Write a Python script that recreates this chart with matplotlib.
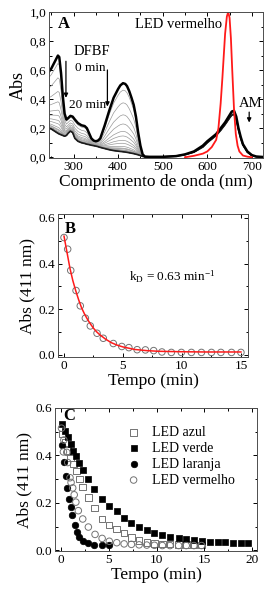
import numpy as np
import matplotlib
matplotlib.use("Agg")
import matplotlib.pyplot as plt
from matplotlib.ticker import MultipleLocator, FuncFormatter

plt.rcParams['font.family'] = ['Liberation Serif', 'DejaVu Serif']
plt.rcParams['mathtext.fontset'] = 'custom'
plt.rcParams['mathtext.rm'] = 'Liberation Serif'
plt.rcParams['mathtext.it'] = 'Liberation Serif:italic'

# ---------------- Panel A data (spectra) ----------------
wl = [245, 250, 255, 260, 265, 268, 272, 276, 280, 284, 288, 293, 298, 303, 310, 318,
      325, 330, 335, 340, 345, 350, 355, 360, 370, 380, 390, 400, 405, 411, 416, 420,
      425, 430, 435, 440, 445, 450, 455, 460, 470, 500, 530, 550, 570, 590, 600, 610,
      620, 630, 640, 650, 655, 660, 665, 670, 675, 680, 690, 700, 710, 725]
abs_0min = [0.59, 0.61, 0.64, 0.67, 0.70, 0.69, 0.58, 0.42, 0.30, 0.26, 0.27, 0.285, 0.28,
            0.26, 0.235, 0.22, 0.215, 0.20, 0.165, 0.13, 0.115, 0.11, 0.115, 0.13, 0.22,
            0.32, 0.41, 0.47, 0.495, 0.51, 0.505, 0.49, 0.455, 0.41, 0.36, 0.28, 0.17,
            0.08, 0.02, 0.005, 0.003, 0.003, 0.008, 0.02, 0.04, 0.08, 0.11, 0.135, 0.16,
            0.20, 0.24, 0.29, 0.315, 0.32, 0.28, 0.20, 0.14, 0.09, 0.04, 0.015, 0.005, 0.002]
abs_20min = [0.20, 0.195, 0.185, 0.175, 0.165, 0.16, 0.155, 0.15, 0.145, 0.15, 0.165, 0.18,
             0.17, 0.13, 0.11, 0.10, 0.095, 0.09, 0.087, 0.083, 0.08, 0.077, 0.073, 0.068,
             0.06, 0.052, 0.046, 0.042, 0.04, 0.038, 0.036, 0.034, 0.031, 0.028, 0.025,
             0.021, 0.017, 0.012, 0.006, 0.003, 0.002, 0.003, 0.008, 0.018, 0.035, 0.07,
             0.10, 0.125, 0.15, 0.185, 0.225, 0.27, 0.29, 0.295, 0.26, 0.19, 0.13, 0.085,
             0.035, 0.012, 0.004, 0.002]
led_wl = [550, 570, 590, 600, 610, 620, 625, 630, 634, 640, 644, 647, 650, 653, 656, 660,
          664, 668, 672, 680, 690, 700]
led_red = [0.0, 0.01, 0.025, 0.04, 0.07, 0.12, 0.2, 0.37, 0.55, 0.85, 0.97, 1.0, 0.96,
           0.82, 0.6, 0.33, 0.16, 0.08, 0.04, 0.012, 0.004, 0.0]

# ---------------- Panel B data ----------------
t_b = [0, 0.31, 0.57, 1.02, 1.38, 1.81, 2.23, 2.8, 3.33, 4.18, 4.9, 5.5, 6.2, 6.9, 7.6,
       8.3, 9.1, 9.95, 10.8, 11.65, 12.5, 13.3, 14.2, 15.0]
abs_b = [0.514, 0.463, 0.37, 0.282, 0.215, 0.161, 0.127, 0.095, 0.073, 0.050, 0.037,
         0.032, 0.023, 0.022, 0.019, 0.013, 0.011, 0.011, 0.011, 0.011, 0.011, 0.011,
         0.011, 0.011]
t_fit = [0, 0.25, 0.5, 0.75, 1.0, 1.25, 1.5, 1.75, 2.0, 2.25, 2.5, 2.75, 3.0, 3.5, 4.0,
         4.5, 5.0, 6.0, 7.0, 8.0, 10.0, 12.0, 15.0]
abs_fit = [0.52, 0.45, 0.38, 0.325, 0.28, 0.24, 0.205, 0.178, 0.155, 0.135, 0.117, 0.102,
           0.09, 0.07, 0.054, 0.043, 0.035, 0.024, 0.019, 0.016, 0.014, 0.013, 0.013]

# ---------------- Panel C data ----------------
t_azul = [0.14, 0.42, 0.7, 1.0, 1.29, 1.64, 1.92, 2.27, 2.86, 3.52, 4.29, 5.03, 5.8, 6.6,
          7.36, 8.17, 8.97, 9.77, 10.6, 11.4, 12.3, 13.1, 13.9, 14.7]
abs_azul = [0.49, 0.455, 0.42, 0.39, 0.363, 0.334, 0.30, 0.267, 0.222, 0.179, 0.131,
            0.106, 0.09, 0.072, 0.053, 0.042, 0.033, 0.029, 0.027, 0.026, 0.025, 0.024,
            0.023, 0.022]
t_verde = [0.14, 0.42, 0.7, 1.0, 1.29, 1.57, 1.88, 2.27, 2.86, 3.49, 4.26, 5.03, 5.83, 6.6,
           7.33, 8.17, 8.97, 9.77, 10.6, 11.4, 12.3, 13.1, 13.9, 14.7, 15.6, 16.4, 17.2,
           18.0, 18.8, 19.6]
abs_verde = [0.534, 0.503, 0.477, 0.448, 0.42, 0.396, 0.367, 0.338, 0.30, 0.258, 0.217,
             0.186, 0.164, 0.136, 0.114, 0.099, 0.086, 0.074, 0.063, 0.056, 0.051, 0.046,
             0.042, 0.039, 0.036, 0.034, 0.033, 0.032, 0.030, 0.029]
t_laranja = [0.1, 0.3, 0.5, 0.66, 0.85, 1.02, 1.15, 1.45, 1.65, 1.92, 2.3, 2.8, 3.5, 4.26, 5.05]
abs_laranja = [0.445, 0.372, 0.313, 0.263, 0.218, 0.181, 0.15, 0.106, 0.078, 0.058, 0.039,
               0.029, 0.023, 0.021, 0.021]
t_vermelho = [0.05, 0.3, 0.25, 0.6, 0.7, 0.94, 1.05, 1.22, 1.38, 1.55, 1.81, 2.27, 2.86,
              3.56, 4.3, 5.05, 5.83, 6.6, 7.36, 8.17, 8.97, 9.77, 10.6, 11.4, 12.3, 13.1,
              13.9, 14.7]
abs_vermelho = [0.515, 0.465, 0.415, 0.413, 0.37, 0.306, 0.286, 0.263, 0.234, 0.203, 0.167,
                0.132, 0.098, 0.067, 0.05, 0.038, 0.032, 0.027, 0.025, 0.023, 0.022, 0.021,
                0.02, 0.02, 0.02, 0.02, 0.02, 0.02]
legend_labels = ['LED azul', 'LED verde', 'LED laranja', 'LED vermelho']

W, H = 272, 590
fig = plt.figure(figsize=(W / 100, H / 100), dpi=100)

def box(l, r, t, b):
    return [l / W, 1 - b / H, (r - l) / W, (b - t) / H]

def style(ax):
    ax.tick_params(which='both', direction='in', top=True, right=True, labelsize=9.5,
                   pad=2, width=0.7)
    ax.tick_params(which='major', length=3)
    ax.tick_params(which='minor', length=1.8)
    for s in ax.spines.values():
        s.set_linewidth(0.7)
        s.set_color('0.3')

comma = FuncFormatter(lambda v, p: ('%.1f' % v).replace('.', ','))

# ---------------- Panel A ----------------
axA = fig.add_axes(box(49, 263, 12, 158))
wl_a = np.array(wl)
a0 = np.array(abs_0min)
a20 = np.array(abs_20min)
b = np.array(abs_b)
fracs = (b - b[-1]) / (b[0] - b[-1])
for f in fracs[1:-1]:
    axA.plot(wl_a, a20 + f * (a0 - a20), color='0.6', lw=0.5)
axA.plot(wl_a, a20, color='0.1', lw=1.2)
axA.plot(wl_a, a0, color='black', lw=1.8)
axA.plot(led_wl, led_red, color='#ff1a1a', lw=1.3)
axA.set_xlim(245, 725)
axA.set_ylim(-0.005, 1.0)
axA.xaxis.set_major_locator(MultipleLocator(100))
axA.xaxis.set_minor_locator(MultipleLocator(50))
axA.yaxis.set_major_locator(MultipleLocator(0.2))
axA.yaxis.set_minor_locator(MultipleLocator(0.1))
axA.yaxis.set_major_formatter(comma)
style(axA)
axA.set_xlabel('Comprimento de onda (nm)', fontsize=12.5, labelpad=1)
axA.set_ylabel('Abs', fontsize=13, labelpad=2)
axA.text(264, 0.915, 'A', fontsize=12, fontweight='bold', ha='left', va='center')
axA.text(535, 0.915, 'LED vermelho', fontsize=10.5, ha='center', va='center')
axA.text(300, 0.725, 'DFBF', fontsize=10.5, ha='left', va='center')
axA.text(304, 0.615, '0 min', fontsize=9.5, ha='left', va='center')
axA.text(290, 0.36, '20 min', fontsize=9.5, ha='left', va='center')
axA.text(697, 0.37, 'AM', fontsize=10.5, ha='center', va='center')
arrow = dict(arrowstyle='-|>', color='black', lw=0.9, mutation_scale=6)
axA.annotate('', xy=(283, 0.39), xytext=(283, 0.68), arrowprops=arrow)
axA.annotate('', xy=(376, 0.33), xytext=(376, 0.62), arrowprops=arrow)
axA.annotate('', xy=(694, 0.22), xytext=(694, 0.33), arrowprops=arrow)

# ---------------- Panel B ----------------
axB = fig.add_axes(box(58, 248, 214, 357))
axB.scatter(t_b, abs_b, s=22, facecolors='none', edgecolors='0.45', linewidths=0.7, zorder=2)
axB.plot(t_fit, abs_fit, color='#ff1a1a', lw=1.1, zorder=3)
axB.set_xlim(-0.51, 15.6)
axB.set_ylim(-0.009, 0.617)
axB.xaxis.set_major_locator(MultipleLocator(5))
axB.xaxis.set_minor_locator(MultipleLocator(2.5))
axB.yaxis.set_major_locator(MultipleLocator(0.2))
axB.yaxis.set_minor_locator(MultipleLocator(0.1))
style(axB)
axB.set_xlabel('Tempo (min)', fontsize=12.5, labelpad=1)
axB.set_ylabel('Abs (411 nm)', fontsize=12.5, labelpad=2)
axB.text(0.1, 0.55, 'B', fontsize=12, fontweight='bold', ha='left', va='center')
axB.text(5.5, 0.34, r'k$_\mathrm{D}$ = 0.63 min$^\mathrm{-1}$', fontsize=9.5, ha='left', va='center')

# ---------------- Panel C ----------------
axC = fig.add_axes(box(55, 257, 408, 551))
ms = 22
axC.scatter(t_azul, abs_azul, marker='s', s=ms, facecolors='none', edgecolors='0.45',
            linewidths=0.7, label=legend_labels[0])
axC.scatter(t_verde, abs_verde, marker='s', s=ms, facecolors='black', edgecolors='black',
            linewidths=0.5, label=legend_labels[1])
axC.scatter(t_laranja, abs_laranja, marker='o', s=ms, facecolors='black', edgecolors='black',
            linewidths=0.5, label=legend_labels[2])
axC.scatter(t_vermelho, abs_vermelho, marker='o', s=ms, facecolors='none', edgecolors='0.45',
            linewidths=0.7, label=legend_labels[3])
axC.set_xlim(-0.63, 20.5)
axC.set_ylim(-0.003, 0.6)
axC.xaxis.set_major_locator(MultipleLocator(5))
axC.xaxis.set_minor_locator(MultipleLocator(2.5))
axC.yaxis.set_major_locator(MultipleLocator(0.2))
axC.yaxis.set_minor_locator(MultipleLocator(0.1))
style(axC)
axC.set_xlabel('Tempo (min)', fontsize=12.5, labelpad=1)
axC.set_ylabel('Abs (411 nm)', fontsize=12.5, labelpad=2)
axC.text(0.2, 0.565, 'C', fontsize=12, fontweight='bold', ha='left', va='center')
axC.legend(loc='upper right', bbox_to_anchor=(0.93, 0.93), frameon=False, fontsize=10,
           handletextpad=0.8, labelspacing=0.2, borderaxespad=0.2, handlelength=1.0)

fig.savefig('out.png', dpi=100)
